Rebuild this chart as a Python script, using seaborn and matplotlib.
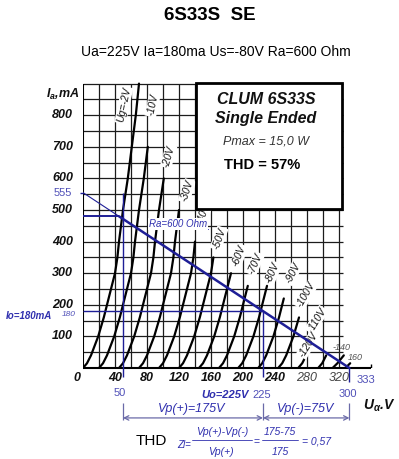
import matplotlib
matplotlib.use("Agg")
import matplotlib.pyplot as plt
import numpy as np
import pandas as pd
import seaborn as sns
from matplotlib.patches import Rectangle

W, H = 399, 459

# anode current levels (mA) at which the curve voltages below were read
IA_LEVELS = [0, 15, 40, 100, 160, 220, 260, 300, 350, 400, 500, 600, 700, 800, 900]

# anode voltage (V) of each grid curve at the levels above
UA_G2 = [0, 5, 10, 19, 26, 32, 36, 40, 43, 45, 50, 56, 61, 66, 70]
UA_G10 = [20, 25, 30, 39, 46, 52, 56, 60, 63, 65, 70, 76, 81]
UA_G20 = [45, 50, 55, 64, 71, 77, 81, 85, 88, 90, 95, 101]
UA_G30 = [70, 75, 80, 89, 96, 102, 106, 110, 113, 115, 120]
UA_G40 = [95, 100, 105, 114, 121, 127, 131, 135, 138, 140]
UA_G50 = [120, 125, 130, 139, 146, 152, 156, 160, 163]
UA_G60 = [145, 150, 155, 164, 171, 177, 181, 185]
UA_G70 = [170, 175, 180, 189, 196, 202, 206]
UA_G80 = [194, 199, 204, 213, 220, 226, 230]
UA_G90 = [219, 224, 229, 238, 245, 251]
UA_G100 = [244, 249, 254, 263, 270]
UA_G110 = [269, 274, 279, 288]
UA_G120 = [294, 299, 304]
UA_G140 = [312, 318, 326]
UA_G160 = [328, 334]

CURVE_NAMES = ["-2", "-10", "-20", "-30", "-40", "-50", "-60", "-70", "-80",
               "-90", "-100", "-110", "-120", "-140", "-160"]

# curve labels: text, Ua, Ia, rotation
LABEL_TEXT = ["Ug=-2V", "-10V", "-20V", "-30V", "-40V", "-50V", "-60V", "-70V",
              "-80V", "-90V", "-100V", "-110V", "-120V"]
LABEL_UA = [51, 87, 107, 130, 151, 170, 195, 215, 237, 262, 279, 292, 282]
LABEL_IA = [832, 832, 670, 560, 488, 410, 355, 330, 300, 300, 231, 152, 75]
LABEL_ROT = [78, 78, 74, 72, 70, 70, 68, 66, 66, 62, 60, 58, 58]

# load line Ra = 600 Ohm and operating point
LOAD_UA = [0, 45, 333]
LOAD_IA = [555, 480, 0]
OP_UA, OP_IA = 225, 180
SWING_UA = 50

X_TICKS = [40, 80, 120, 160, 200, 240, 280, 320]
Y_TICKS = [100, 200, 300, 400, 500, 600, 700, 800]

BLUE = "#1e1e96"
TXT_BLUE = "#2f2fae"
LIGHT_BLUE = "#5050b8"


def px(x, y):
    return x / W, 1 - y / H


sns.set_theme(style="white")
plt.rcParams["font.family"] = ["Liberation Sans", "DejaVu Sans"]
plt.rcParams["mathtext.fontset"] = "custom"
plt.rcParams["mathtext.it"] = "Liberation Sans:italic:bold"
plt.rcParams["mathtext.rm"] = "Liberation Sans:italic:bold"

fig = plt.figure(figsize=(W / 100, H / 100), dpi=100)
ax = fig.add_axes([83 / W, (H - 368) / H, 362 * 0.8 / W, 905 * 0.316 / H])
ax.set_xlim(0, 362)
ax.set_ylim(0, 905)
for s in ax.spines.values():
    s.set_visible(False)
ax.set_facecolor("white")

# grid of the scanned sheet
ax.vlines(np.arange(20, 321, 20), 0, 900, color="#1c1c1c", lw=0.9, zorder=1)
ax.hlines(np.arange(50, 901, 50), 0, 325, color="#1c1c1c", lw=0.9, zorder=1)
ax.hlines(0, 0, 360, color="black", lw=1.5, zorder=2, clip_on=False)
ax.vlines(0, 0, 900, color="black", lw=1.5, zorder=2)
ax.vlines(360, 0, 14, color="black", lw=1.0, zorder=2)

# tube curves
curves = [UA_G2, UA_G10, UA_G20, UA_G30, UA_G40, UA_G50, UA_G60, UA_G70, UA_G80,
          UA_G90, UA_G100, UA_G110, UA_G120, UA_G140, UA_G160]
rows = []
for name, ua in zip(CURVE_NAMES, curves):
    for u, i in zip(ua, IA_LEVELS):
        rows.append({"ug": name, "ua": u, "ia": i})
df = pd.DataFrame(rows)
sns.lineplot(data=df, x="ua", y="ia", units="ug", estimator=None, sort=False,
             color="black", linewidth=1.6, ax=ax, zorder=3)
ax.set_xlabel("")
ax.set_ylabel("")

for t, u, i, r in zip(LABEL_TEXT, LABEL_UA, LABEL_IA, LABEL_ROT):
    ax.text(u, i, t, rotation=r, ha="center", va="center", fontsize=7.5,
            style="italic", color="#111111", zorder=3,
            bbox=dict(facecolor="white", edgecolor="none", pad=0.6))

# info box
ax.add_patch(Rectangle((141, 503), 183, 400, facecolor="white", edgecolor="black",
                       lw=2, zorder=5, clip_on=False))

# load line and working point construction
ax.plot(LOAD_UA[:2], LOAD_IA[:2], color=BLUE, lw=0.8, zorder=4)
ax.plot(LOAD_UA[1:], LOAD_IA[1:], color=BLUE, lw=1.8, zorder=4, clip_on=False)
ax.hlines(LOAD_IA[1], 0, LOAD_UA[1], color=BLUE, lw=1.4, zorder=4)
ax.hlines(OP_IA, 0, OP_UA, color=BLUE, lw=1.0, zorder=4)
ax.vlines(OP_UA, -30, OP_IA, color=BLUE, lw=1.0, zorder=4, clip_on=False)
ax.vlines(SWING_UA, -30, LOAD_IA[0], color=BLUE, lw=1.0, zorder=4, clip_on=False)
ax.vlines(LOAD_UA[2], -45, 0, color=BLUE, lw=1.0, zorder=4, clip_on=False)
ax.hlines(LOAD_IA[0], -4, 0, color=BLUE, lw=1.0, zorder=4, clip_on=False)

# dimension lines under the axis
dim_y = -158
for u in [SWING_UA, OP_UA, LOAD_UA[2]]:
    ax.vlines(u, -165, -111, color="#6a6aa8", lw=0.9, clip_on=False)
for a, b in [(SWING_UA, OP_UA), (OP_UA, LOAD_UA[2])]:
    ax.annotate("", xy=(b, dim_y), xytext=(a, dim_y), annotation_clip=False,
                arrowprops=dict(arrowstyle="<->", color="#6a6aa8", lw=0.9,
                                shrinkA=0, shrinkB=0, mutation_scale=8))

# ticks
ax.set_xticks([])
ax.set_yticks([])
for v in X_TICKS:
    light = v >= 280
    fig.text(*px(83 + v * 0.8, 378), str(v), ha="center", va="center",
             fontsize=9, style="italic", fontweight="normal" if light else "bold",
             color="#444444" if light else "#111111")
for v in Y_TICKS:
    fig.text(*px(73, 368 - v * 0.316), str(v), ha="right", va="center",
             fontsize=9, style="italic", fontweight="bold", color="#111111")
fig.text(*px(77, 378), "0", ha="center", va="center", fontsize=9,
         style="italic", fontweight="bold", color="#111111")
fig.text(*px(63, 94), r"$I_a$,mA", ha="center", va="center", fontsize=9,
         style="italic", fontweight="bold", color="#111111")
fig.text(*px(379, 406), r"$U_\alpha$.V", ha="center", va="center", fontsize=10,
         style="italic", fontweight="bold", color="#111111")

# titles
fig.text(*px(210, 15), "6S33S  SE", ha="center", va="center", fontsize=13.5,
         fontweight="bold", color="black")
fig.text(*px(216, 52), "Ua=225V Ia=180ma Us=-80V Ra=600 Ohm", ha="center",
         va="center", fontsize=10, color="black")

# box text
fig.text(*px(266, 99), "CLUM 6S33S", ha="center", va="center", fontsize=11.5,
         fontweight="bold", style="italic", color="#111111", zorder=6)
fig.text(*px(266, 119), "Single Ended", ha="center", va="center", fontsize=11.5,
         fontweight="bold", style="italic", color="#111111", zorder=6)
fig.text(*px(266, 142), "Pmax = 15,0 W", ha="center", va="center", fontsize=9,
         style="italic", color="#333333", zorder=6)
fig.text(*px(262, 165), "THD = 57%", ha="center", va="center", fontsize=10.5,
         fontweight="bold", color="black", zorder=6)

# blue annotations
fig.text(*px(72, 193), "555", ha="right", va="center", fontsize=8, color=LIGHT_BLUE)
fig.text(*px(29, 316), "Io=180mA", ha="center", va="center", fontsize=7,
         style="italic", fontweight="bold", color=TXT_BLUE)
fig.text(*px(69, 315), "180", ha="center", va="center", fontsize=6,
         style="italic", color=LIGHT_BLUE)
fig.text(*px(178, 224), "Ra=600 Ohm", ha="center", va="center", fontsize=7,
         style="italic", color=TXT_BLUE, zorder=6,
         bbox=dict(facecolor="white", edgecolor="none", pad=0.5))
fig.add_artist(plt.Line2D([148 / W, 208 / W], [1 - 229 / H, 1 - 229 / H],
                          color=TXT_BLUE, lw=0.7))
fig.text(*px(120, 393), "50", ha="center", va="center", fontsize=8, color=LIGHT_BLUE)
fig.text(*px(225, 395), "Uo=225V", ha="center", va="center", fontsize=8,
         style="italic", fontweight="bold", color=TXT_BLUE)
fig.text(*px(262, 395), "225", ha="center", va="center", fontsize=8, color=LIGHT_BLUE)
fig.text(*px(366, 380), "333", ha="center", va="center", fontsize=8, color=LIGHT_BLUE)
fig.text(*px(348, 394), "300", ha="center", va="center", fontsize=8, color=LIGHT_BLUE)
fig.text(*px(342, 348), "-140", ha="center", va="center", fontsize=6.5,
         style="italic", color="#555555")
fig.text(*px(355, 358), "160", ha="center", va="center", fontsize=6.5,
         style="italic", color="#555555")
fig.text(*px(192, 409), "Vp(+)=175V", ha="center", va="center", fontsize=9,
         style="italic", color=TXT_BLUE)
fig.text(*px(306, 409), "Vp(-)=75V", ha="center", va="center", fontsize=9,
         style="italic", color=TXT_BLUE)

# THD formula
fig.text(*px(151, 441), "THD", ha="center", va="center", fontsize=11, color="black")
fig.text(*px(184, 445), "Zl=", ha="center", va="center", fontsize=7,
         style="italic", color=TXT_BLUE)
fig.text(*px(222, 432), "Vp(+)-Vp(-)", ha="center", va="center", fontsize=7.5,
         style="italic", color=TXT_BLUE)
fig.text(*px(221, 452), "Vp(+)", ha="center", va="center", fontsize=7.5,
         style="italic", color=TXT_BLUE)
fig.add_artist(plt.Line2D([192 / W, 252 / W], [1 - 440 / H] * 2, color=TXT_BLUE, lw=0.6))
fig.text(*px(257, 442), "=", ha="center", va="center", fontsize=7.5, color=TXT_BLUE)
fig.text(*px(280, 432), "175-75", ha="center", va="center", fontsize=7.5,
         style="italic", color=TXT_BLUE)
fig.text(*px(280, 452), "175", ha="center", va="center", fontsize=7.5,
         style="italic", color=TXT_BLUE)
fig.add_artist(plt.Line2D([262 / W, 298 / W], [1 - 440 / H] * 2, color=TXT_BLUE, lw=0.6))
fig.text(*px(317, 442), "= 0,57", ha="center", va="center", fontsize=7.5,
         style="italic", color=TXT_BLUE)

fig.savefig("out.png", dpi=100, facecolor="white")
